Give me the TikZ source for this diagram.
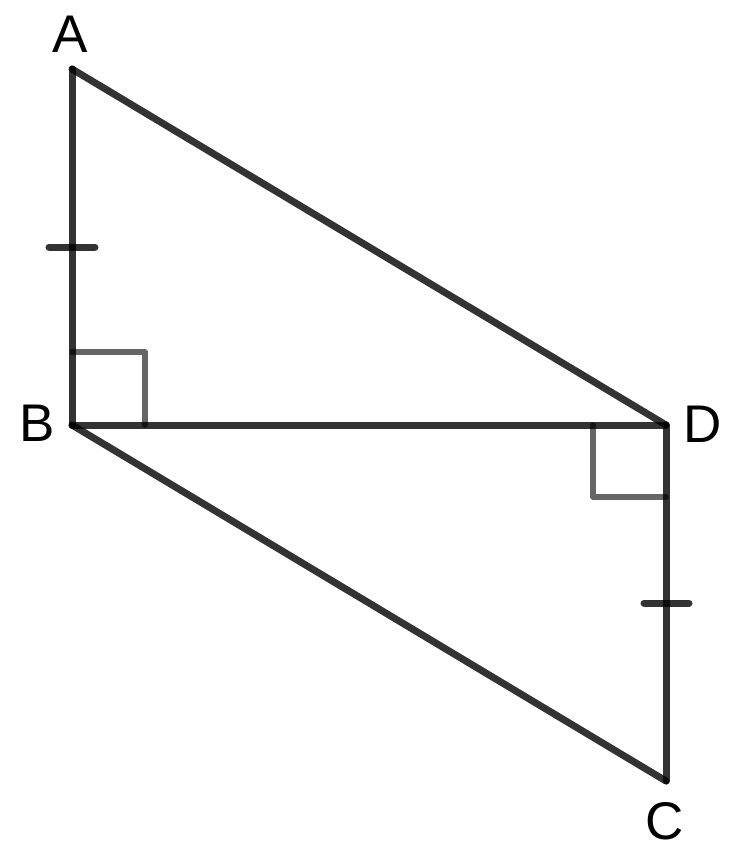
\documentclass[tikz,border=0pt]{standalone}
\usepackage{fontspec}
\setmainfont{Liberation Sans}
\begin{document}
\begin{tikzpicture}[x=1pt,y=-1pt,
  edge/.style={line width=7pt,draw=black,draw opacity=0.8,line cap=round,line join=round},
  tickmark/.style={line width=7pt,draw=black,draw opacity=0.8,line cap=round},
  rightmark/.style={line width=5.5pt,draw=black,draw opacity=0.6,line cap=round,line join=round},
  lbl/.style={inner sep=0pt,font=\fontsize{53}{60}\selectfont}]
\useasboundingbox (0,0) rectangle (734,859);
\coordinate (A) at (72,69);
\coordinate (B) at (72,425);
\coordinate (D) at (666,425);
\coordinate (C) at (666,781);
\coordinate (tA1) at (49,247);
\coordinate (tA2) at (95,247);
\coordinate (tC1) at (644,603);
\coordinate (tC2) at (689,603);
\node[lbl] (lA) at (70,34) {A};
\node[lbl] (lB) at (37,423) {B};
\node[lbl] (lD) at (703,424) {D};
\node[lbl] (lC) at (665,821) {C};
\draw[rightmark] (B) ++(0,-73) -- ++(73,0) -- ++(0,73);
\draw[rightmark] (D) ++(-73,0) -- ++(0,72) -- ++(73,0);
\draw[edge] (A) -- (B);
\draw[edge] (B) -- (D);
\draw[edge] (A) -- (D);
\draw[edge] (B) -- (C);
\draw[edge] (D) -- (C);
\draw[tickmark] (tA1) -- (tA2);
\draw[tickmark] (tC1) -- (tC2);
\end{tikzpicture}
\end{document}
